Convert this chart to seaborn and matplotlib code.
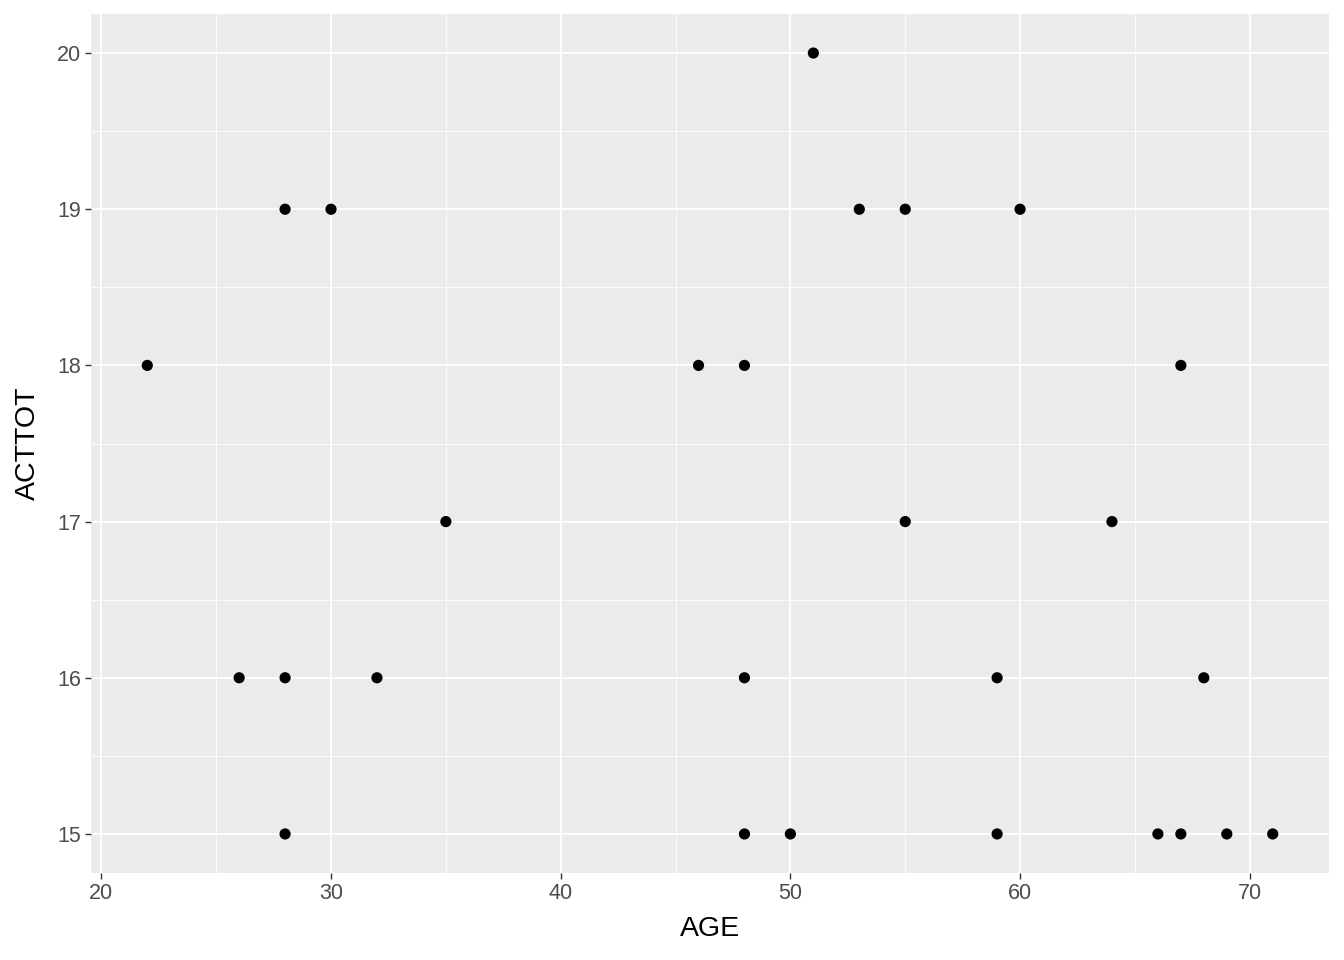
import numpy as np
import pandas as pd
import matplotlib.pyplot as plt
import seaborn as sns

# data
age = [22, 26, 28, 28, 28, 30, 32, 35, 46, 48, 48, 48, 50, 51, 53, 55, 55,
       59, 59, 60, 64, 66, 67, 67, 68, 69, 71]
acttot = [18, 16, 19, 16, 15, 19, 16, 17, 18, 18, 16, 15, 15, 20, 19, 19, 17,
          16, 15, 19, 17, 15, 18, 15, 16, 15, 15]
x_ticks = [20, 30, 40, 50, 60, 70]
y_ticks = [15, 16, 17, 18, 19, 20]

df = pd.DataFrame({'AGE': age, 'ACTTOT': acttot})

plt.rcParams['font.family'] = ['Liberation Sans', 'DejaVu Sans']

fig = plt.figure(figsize=(13.44, 9.6), dpi=100)
ax = fig.add_axes([91 / 1344, 1 - 873 / 960, (1329 - 91) / 1344, (873 - 14) / 960])
ax.set_facecolor('#EBEBEB')

# ggplot-like grid
ax.set_xticks(x_ticks)
ax.set_yticks(y_ticks)
ax.set_xticks([25, 35, 45, 55, 65], minor=True)
ax.set_yticks([15.5, 16.5, 17.5, 18.5, 19.5], minor=True)
ax.grid(which='major', color='white', linewidth=1.3)
ax.grid(which='minor', color='white', linewidth=0.6)
ax.set_axisbelow(True)
for s in ax.spines.values():
    s.set_visible(False)

sns.scatterplot(data=df, x='AGE', y='ACTTOT', ax=ax, color='black', s=65,
                edgecolor='none', linewidth=0, zorder=3)

xr = max(age) - min(age)
yr = max(acttot) - min(acttot)
ax.set_xlim(min(age) - 0.05 * xr, max(age) + 0.05 * xr)
ax.set_ylim(min(acttot) - 0.05 * yr, max(acttot) + 0.05 * yr)

ax.tick_params(which='major', colors='#333333', labelcolor='#4D4D4D',
               labelsize=15.5, length=4, width=1, pad=3)
ax.tick_params(which='minor', length=0)
ax.set_xlabel('AGE', fontsize=20.5, color='black', labelpad=9)
ax.set_ylabel('ACTTOT', fontsize=20.5, color='black', labelpad=12)

fig.savefig('out.png', dpi=100, facecolor='white')
plt.close(fig)
